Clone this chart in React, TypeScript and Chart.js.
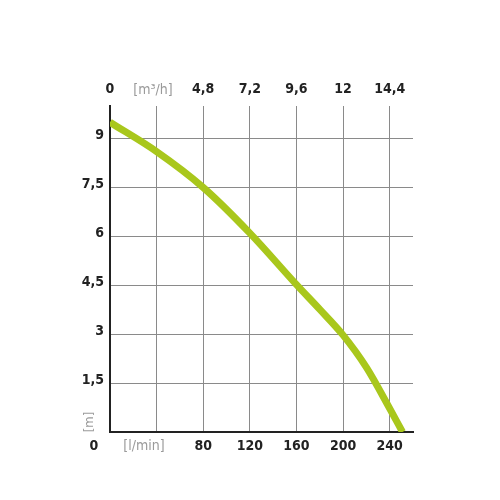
import React, { useEffect, useRef } from "react";
import { Chart, registerables } from "chart.js";

Chart.register(...registerables);

const flowLmin = [0, 40, 80, 120, 160, 180, 200, 220, 240, 251];
const headM = [9.5, 8.6, 7.5, 6.1, 4.52, 3.76, 2.97, 1.98, 0.72, 0];
const xTicks = [0, 40, 80, 120, 160, 200, 240];
const topTickLabels = ["0", "", "4,8", "7,2", "9,6", "12", "14,4"];
const bottomTickLabels = ["", "", "80", "120", "160", "200", "240"];
const yTicks = [0, 1.5, 3, 4.5, 6, 7.5, 9];
const yTickLabels = ["", "1,5", "3", "4,5", "6", "7,5", "9"];
const topUnit = "[m³/h]";
const bottomUnit = "[l/min]";
const yUnit = "[m]";
const cornerLabel = "0";

const FONT = "'DejaVu Sans Condensed', 'DejaVu Sans', sans-serif";
const DARK = "#222222";
const GRAY = "#9a9a9a";

const unitPlugin = {
  id: "units",
  afterDraw(chart: any) {
    const ctx = chart.ctx;
    const { left, bottom, top } = chart.chartArea;
    ctx.save();
    ctx.textAlign = "center";
    ctx.textBaseline = "middle";
    ctx.font = `bold 14px ${FONT}`;
    ctx.fillStyle = DARK;
    ctx.fillText(cornerLabel, left - 16, bottom + 14);
    ctx.font = `14px ${FONT}`;
    ctx.fillStyle = GRAY;
    ctx.fillText(topUnit, left + 43, top - 16);
    ctx.fillText(bottomUnit, left + 34, bottom + 14);
    ctx.translate(left - 20, bottom - 10);
    ctx.rotate(-Math.PI / 2);
    ctx.font = `13px ${FONT}`;
    ctx.fillText(yUnit, 0, 0);
    ctx.restore();
  },
};

export default function App() {
  const ref = useRef<HTMLCanvasElement | null>(null);
  useEffect(() => {
    if (!ref.current) return;
    const chart = new Chart(ref.current, {
      type: "line",
      data: {
        datasets: [
          {
            data: flowLmin.map((x, i) => ({ x, y: headM[i] })),
            borderColor: "#a9c71c",
            borderWidth: 7,
            pointRadius: 0,
            cubicInterpolationMode: "monotone",
            fill: false,
          },
        ],
      },
      options: {
        responsive: false,
        animation: false,
        layout: { padding: { left: 0, right: 87, top: 0, bottom: 0 } },
        plugins: { legend: { display: false }, tooltip: { enabled: false } },
        scales: {
          x: {
            type: "linear",
            position: "bottom",
            min: 0,
            max: 260,
            afterBuildTicks: (s: any) => {
              s.ticks = xTicks.map((v) => ({ value: v }));
            },
            afterFit: (s: any) => {
              s.height = 68;
            },
            grid: { color: "#8a8a8a", lineWidth: 1, drawTicks: false },
            border: { color: DARK, width: 2 },
            ticks: {
              padding: 6,
              maxRotation: 0,
              autoSkip: false,
              font: { family: FONT, size: 14, weight: "bold" },
              color: DARK,
              callback: (v: any) => bottomTickLabels[xTicks.indexOf(Number(v))] ?? "",
            },
          },
          x2: {
            type: "linear",
            position: "top",
            min: 0,
            max: 260,
            afterBuildTicks: (s: any) => {
              s.ticks = xTicks.map((v) => ({ value: v }));
            },
            afterFit: (s: any) => {
              s.height = 106;
            },
            grid: { display: false, drawTicks: false },
            border: { display: false },
            ticks: {
              padding: 8,
              maxRotation: 0,
              autoSkip: false,
              font: { family: FONT, size: 14, weight: "bold" },
              color: DARK,
              callback: (v: any) => topTickLabels[xTicks.indexOf(Number(v))] ?? "",
            },
          },
          y: {
            type: "linear",
            min: 0,
            max: 10,
            afterBuildTicks: (s: any) => {
              s.ticks = yTicks.map((v) => ({ value: v }));
            },
            afterFit: (s: any) => {
              s.width = 110;
            },
            grid: { color: "#8a8a8a", lineWidth: 1, drawTicks: false },
            border: { color: DARK, width: 2 },
            ticks: {
              padding: 6,
              labelOffset: -3,
              autoSkip: false,
              font: { family: FONT, size: 14, weight: "bold" },
              color: DARK,
              callback: (v: any) => yTickLabels[yTicks.indexOf(Number(v))] ?? "",
            },
          },
        },
      },
      plugins: [unitPlugin],
    } as any);
    return () => chart.destroy();
  }, []);
  return (
    <div style={{ position: "absolute", left: 0, top: 0, width: 500, height: 500, background: "#fff" }}>
      <canvas ref={ref} width={500} height={500} style={{ width: 500, height: 500 }} />
    </div>
  );
}
